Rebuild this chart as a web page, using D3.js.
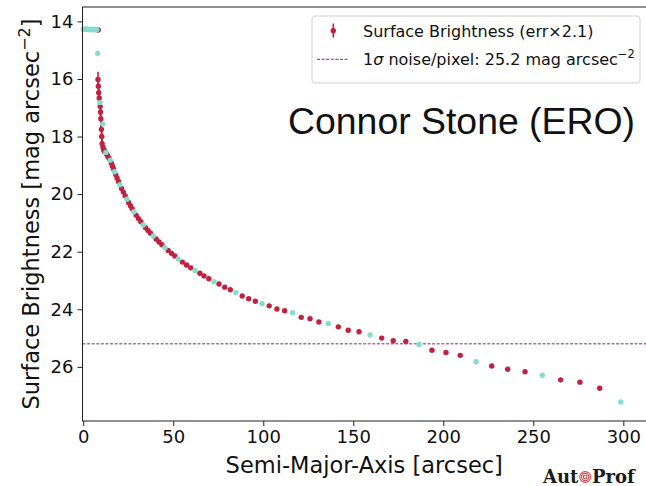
<!DOCTYPE html>
<html><head><meta charset="utf-8">
<script src="https://cdn.jsdelivr.net/npm/d3@7"></script>
<style>
  body { margin: 0; background: #fff; }
  svg { display: block; }
</style>
</head><body>
<svg id="chart" width="646" height="486"></svg>
<script>
// Isophote surface brightness profile: semi-major axis [arcsec] vs SB [mag arcsec^-2]
const profileSma = [8.3,
  8.2, 8.4, 8.6, 8.9, 9.4, 9.6, 9.8, 10.1, 10.3, 10.5, 11.0, 11.6, 12.1,
  13.1, 13.7, 14.3, 15.6, 16.2, 16.8, 18.1, 18.8, 19.6, 21.3, 22.3, 23.3,
  25.2, 26.2, 27.2, 29.4, 30.7, 32.0, 34.6, 36.0, 37.4, 40.5, 42.1, 43.7,
  47.2, 49.1, 50.9, 55.1, 57.4, 59.7, 64.8, 67.1, 69.8, 75.4, 78.6, 81.7,
  88.3, 91.9, 95.6, 103.3, 107.6, 111.9, 121.1, 126.0, 130.9, 141.7, 147.2, 153.2,
  165.8, 172.2, 179.2, 193.7, 201.5, 209.4, 226.9, 235.8, 245.4, 265.2, 275.9, 286.9];
const profileSb = [14.30,
  16.02, 16.25, 16.48, 16.66, 16.95, 17.15, 17.38, 17.75, 18.00, 18.25, 18.38, 18.47, 18.52,
  18.62, 18.69, 18.75, 18.92, 19.02, 19.12, 19.33, 19.44, 19.56, 19.80, 19.93, 20.06,
  20.29, 20.40, 20.51, 20.73, 20.85, 20.96, 21.17, 21.26, 21.36, 21.56, 21.66, 21.76,
  21.96, 22.06, 22.15, 22.36, 22.46, 22.56, 22.75, 22.84, 22.94, 23.12, 23.23, 23.32,
  23.54, 23.63, 23.72, 23.88, 23.99, 24.05, 24.28, 24.33, 24.44, 24.61, 24.73, 24.78,
  25.00, 25.09, 25.12, 25.42, 25.50, 25.60, 25.97, 26.08, 26.17, 26.45, 26.53, 26.74];
const profileErr = [0.01,
  0.13, 0.12, 0.14, 0.14, 0.15, 0.15, 0.16, 0.16, 0.15, 0.14, 0.10, 0.07, 0.05,
  0.03, 0.03, 0.03, 0.02, 0.02, 0.02, 0.02, 0.02, 0.02, 0.01, 0.01, 0.01,
  0.01, 0.01, 0.01, 0.01, 0.01, 0.01, 0.01, 0.01, 0.01, 0.01, 0.01, 0.01,
  0.01, 0.01, 0.01, 0.01, 0.01, 0.01, 0.01, 0.01, 0.01, 0.01, 0.01, 0.01,
  0.01, 0.01, 0.01, 0.01, 0.01, 0.01, 0.01, 0.01, 0.01, 0.01, 0.01, 0.01,
  0.02, 0.02, 0.02, 0.02, 0.02, 0.02, 0.02, 0.02, 0.02, 0.03, 0.03, 0.03];

// Highlighted isophotes (drawn on top)
const markedSma = [0.1, 0.6, 1.1, 1.6, 2.1, 2.6, 3.1, 3.6, 4.1, 4.6, 5.1, 5.6, 6.1, 6.6, 7.1, 7.5,
  8.0, 9.3, 10.9, 12.6, 15.0, 17.4, 20.4, 24.3, 28.2, 33.3, 38.9, 45.4, 52.8, 62.1, 72.6,
  84.8, 99.3, 116.3, 136.1, 159.3, 186.5, 218.2, 255.0, 298.6];
const markedSb = [14.27, 14.27, 14.27, 14.27, 14.27, 14.28, 14.28, 14.28, 14.28, 14.28, 14.28, 14.28, 14.28, 14.28, 14.29, 14.29,
  15.11, 16.82, 17.56, 18.55, 18.82, 19.22, 19.67, 20.18, 20.61, 21.07, 21.45, 21.86, 22.25, 22.66, 23.04,
  23.42, 23.81, 24.12, 24.49, 24.89, 25.22, 25.82, 26.29, 27.22];

const xTicks = [0, 50, 100, 150, 200, 250, 300];
const yTicks = [14, 16, 18, 20, 22, 24, 26];
const noiseLevel = 25.2;
const errScale = 2.1;

const RED = "#c0213f";
const CYAN = "#84dccf";
const PURPLE = "#800080";
const TICK_FONT = "DejaVu Sans, sans-serif";

const svg = d3.select("#chart");
const plotLeft = 82.5, plotRight = 646, plotTop = 7, plotBottom = 421;

const x = d3.scaleLinear().domain([-0.4, 312.6]).range([plotLeft, plotRight]);
const y = d3.scaleLinear().domain([13.5, 27.88]).range([plotTop, plotBottom]);

const plot = svg.append("g");

// noise floor
plot.append("line")
  .attr("x1", plotLeft).attr("x2", plotRight)
  .attr("y1", y(noiseLevel)).attr("y2", y(noiseLevel))
  .attr("stroke", PURPLE).attr("stroke-width", 0.9)
  .attr("stroke-dasharray", "3,1.6");

const profile = profileSma.map((r, i) => ({ r, sb: profileSb[i], e: profileErr[i] * errScale }));
const marked = markedSma.map((r, i) => ({ r, sb: markedSb[i] }));

// error bars
plot.append("g").selectAll("line").data(profile).join("line")
  .attr("x1", d => x(d.r)).attr("x2", d => x(d.r))
  .attr("y1", d => y(d.sb - d.e)).attr("y2", d => y(d.sb + d.e))
  .attr("stroke", RED).attr("stroke-width", 1.6);

plot.append("g").selectAll("circle").data(profile).join("circle")
  .attr("cx", d => x(d.r)).attr("cy", d => y(d.sb)).attr("r", 2.7)
  .attr("fill", RED);

plot.append("g").selectAll("circle").data(marked).join("circle")
  .attr("cx", d => x(d.r)).attr("cy", d => y(d.sb)).attr("r", 2.7)
  .attr("fill", CYAN);

// axes
const xAxis = svg.append("g").attr("transform", `translate(0,${plotBottom})`)
  .call(d3.axisBottom(x).tickValues(xTicks).tickSize(5).tickPadding(4).tickFormat(d3.format("d")));
const yAxis = svg.append("g").attr("transform", `translate(${plotLeft},0)`)
  .call(d3.axisLeft(y).tickValues(yTicks).tickSize(5).tickPadding(4).tickFormat(d3.format("d")));
[xAxis, yAxis].forEach(a => {
  a.select(".domain").remove();
  a.selectAll(".tick line").attr("stroke", "#222").attr("stroke-width", 1);
  a.selectAll(".tick text").attr("fill", "#111").style("font-family", TICK_FONT).style("font-size", "18px");
});

// frame
svg.append("rect").attr("x", plotLeft).attr("y", plotTop)
  .attr("width", plotRight - plotLeft + 2).attr("height", plotBottom - plotTop)
  .attr("fill", "none").attr("stroke", "#222").attr("stroke-width", 1);

// axis labels
svg.append("text").attr("x", (plotLeft + plotRight) / 2).attr("y", 473)
  .attr("text-anchor", "middle").attr("fill", "#111")
  .style("font-family", TICK_FONT).style("font-size", "22.5px")
  .text("Semi-Major-Axis [arcsec]");

const yl = svg.append("text").attr("transform", `translate(39,${(plotTop + plotBottom) / 2}) rotate(-90)`)
  .attr("text-anchor", "middle").attr("fill", "#111")
  .style("font-family", TICK_FONT).style("font-size", "22.5px");
yl.append("tspan").text("Surface Brightness [mag arcsec");
yl.append("tspan").attr("dy", -9).style("font-size", "16px").text("\u22122");
yl.append("tspan").attr("dy", 9).text("]");

// legend
const lg = svg.append("g");
lg.append("rect").attr("x", 312).attr("y", 16).attr("width", 328).attr("height", 67)
  .attr("rx", 3).attr("fill", "#fff").attr("fill-opacity", 0.8)
  .attr("stroke", "#d0d0d0").attr("stroke-width", 1);
lg.append("line").attr("x1", 333.3).attr("x2", 333.3).attr("y1", 23.5).attr("y2", 37.5)
  .attr("stroke", RED).attr("stroke-width", 1.6);
lg.append("circle").attr("cx", 333.3).attr("cy", 30.7).attr("r", 2.7).attr("fill", RED);
lg.append("text").attr("x", 363).attr("y", 36.5).attr("fill", "#111")
  .style("font-family", TICK_FONT).style("font-size", "16px")
  .text("Surface Brightness (err\u00d72.1)");
lg.append("line").attr("x1", 317).attr("x2", 349).attr("y1", 59.3).attr("y2", 59.3)
  .attr("stroke", PURPLE).attr("stroke-width", 0.9).attr("stroke-dasharray", "3,1.6");
const t2 = lg.append("text").attr("x", 363).attr("y", 65).attr("fill", "#111")
  .style("font-family", TICK_FONT).style("font-size", "16px");
t2.append("tspan").text("1");
t2.append("tspan").style("font-style", "italic").text("\u03c3");
t2.append("tspan").text(` noise/pixel: ${noiseLevel} mag arcsec`);
t2.append("tspan").attr("dy", -7).style("font-size", "11.5px").text("\u22122");

// name
svg.append("text").attr("x", 288).attr("y", 134).attr("fill", "#111")
  .style("font-family", "Liberation Sans, Arial, sans-serif").style("font-size", "37.4px")
  .text("Connor Stone (ERO)");

// AutoProf mark
const logo = svg.append("g").style("font-family", "DejaVu Serif, serif").style("font-weight", "bold")
  .style("font-size", "18px").attr("fill", "#1a1a1a");
const aut = logo.append("text").attr("x", 543).attr("y", 483).text("Aut");
const autEnd = 543 + aut.node().getComputedTextLength();
const sw = logo.append("g").attr("transform", `translate(${autEnd + 6.8},477)`);
[5.4, 3.6, 1.8].forEach(rr => sw.append("circle").attr("r", rr)
  .attr("fill", "none").attr("stroke", "#d2454e").attr("stroke-width", 1.1));
logo.append("text").attr("x", autEnd + 13.6).attr("y", 483).text("Prof");
</script>
</body></html>
